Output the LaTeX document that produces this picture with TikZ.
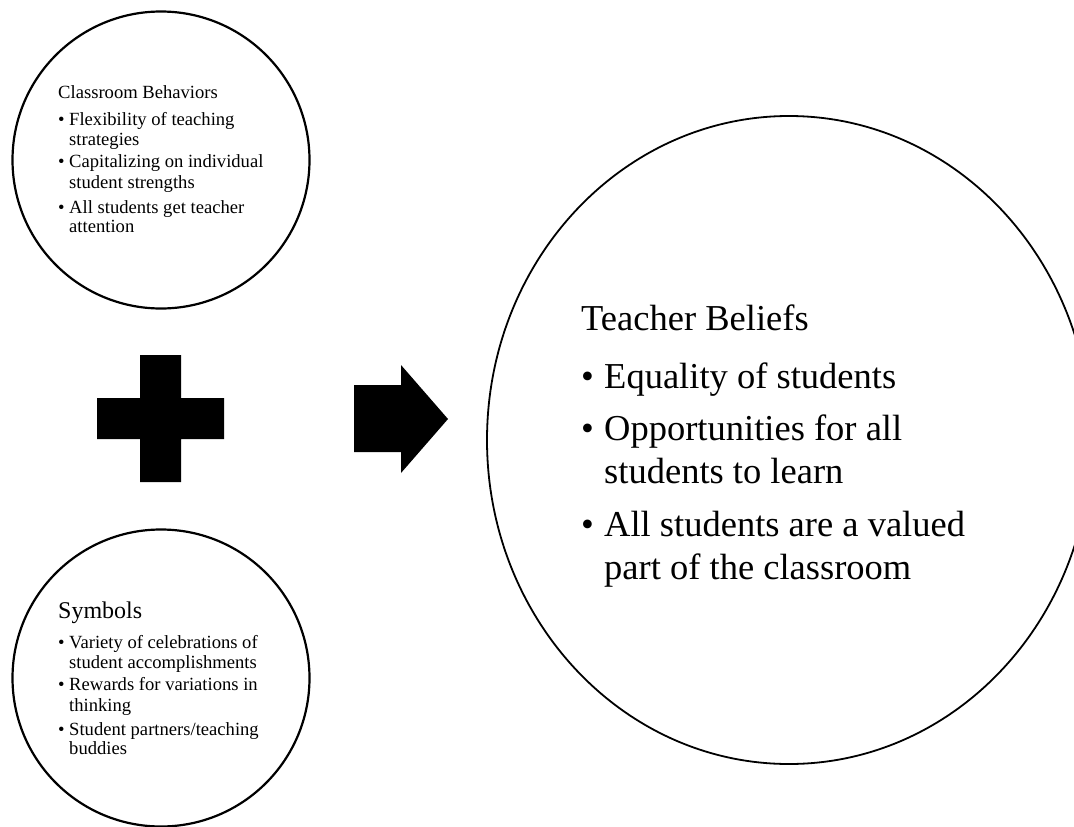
\documentclass[tikz,border=0pt]{standalone}
\usepackage{fontspec}
\setmainfont{Liberation Serif}
\usetikzlibrary{shapes.geometric}
\tikzset{
  smallcirc/.style={circle, draw=black, line width=2.2pt, minimum size=297pt, inner sep=0pt},
  bigcirc/.style={ellipse, draw=black, line width=1.8pt, minimum width=604pt, minimum height=648pt, inner sep=0pt},
  txs/.style={anchor=base west, inner sep=0pt, font=\fontsize{18.6}{20}\selectfont},
  txst/.style={anchor=base west, inner sep=0pt, font=\fontsize{24}{26}\selectfont},
  txb/.style={anchor=base west, inner sep=0pt, font=\fontsize{36.5}{40}\selectfont},
  shapefill/.style={fill=black, draw=none}
}
\begin{document}
\begin{tikzpicture}[x=1pt,y=-1pt]
\useasboundingbox (0,0) rectangle (1074,827);
\begin{scope}
\clip (0,0) rectangle (1074,827);
% circles
\node[smallcirc] (cb) at (161,160) {};
\node[smallcirc] (sy) at (161,678) {};
\node[bigcirc] (tb) at (789,440) {};
\end{scope}
% plus sign
\coordinate (plus) at (160.5,418.5);
\fill[shapefill] (140,355) -- (181,355) -- (181,398) -- (224,398) -- (224,439) -- (181,439)
  -- (181,482) -- (140,482) -- (140,439) -- (97,439) -- (97,398) -- (140,398) -- cycle;
% block arrow
\coordinate (arr) at (401,419);
\fill[shapefill] (354,385) -- (401,385) -- (401,365) -- (448,419) -- (401,473) -- (401,452) -- (354,452) -- cycle;
% top circle text
\node[txs] (cbt) at (58,98) {Classroom Behaviors};
\node[txs] (cb1b) at (58,125) {•};
\node[txs] (cb1) at (69,125) {Flexibility of teaching};
\node[txs] (cb1c) at (69,145) {strategies};
\node[txs] (cb2b) at (58,167) {•};
\node[txs] (cb2) at (69,167) {Capitalizing on individual};
\node[txs] (cb2c) at (69,188) {student strengths};
\node[txs] (cb3b) at (58,213) {•};
\node[txs] (cb3) at (69,213) {All students get teacher};
\node[txs] (cb3c) at (69,232) {attention};
% bottom circle text
\node[txst] (syt) at (58,618) {Symbols};
\node[txs] (sy1b) at (58,648) {•};
\node[txs] (sy1) at (69,648) {Variety of celebrations of};
\node[txs] (sy1c) at (69,668) {student accomplishments};
\node[txs] (sy2b) at (58,690) {•};
\node[txs] (sy2) at (69,690) {Rewards for variations in};
\node[txs] (sy2c) at (69,711) {thinking};
\node[txs] (sy3b) at (58,735) {•};
\node[txs] (sy3) at (69,735) {Student partners/teaching};
\node[txs] (sy3c) at (69,754) {buddies};
% big circle text
\node[txb] (tbt) at (581,330) {Teacher Beliefs};
\node[txb] (tb1b) at (581,388) {•};
\node[txb] (tb1) at (604,388) {Equality of students};
\node[txb] (tb2b) at (581,440) {•};
\node[txb] (tb2) at (604,440) {Opportunities for all};
\node[txb] (tb2c) at (604,483) {students to learn};
\node[txb] (tb3b) at (581,536) {•};
\node[txb] (tb3) at (604,536) {All students are a valued};
\node[txb] (tb3c) at (604,579) {part of the classroom};
\end{tikzpicture}
\end{document}
